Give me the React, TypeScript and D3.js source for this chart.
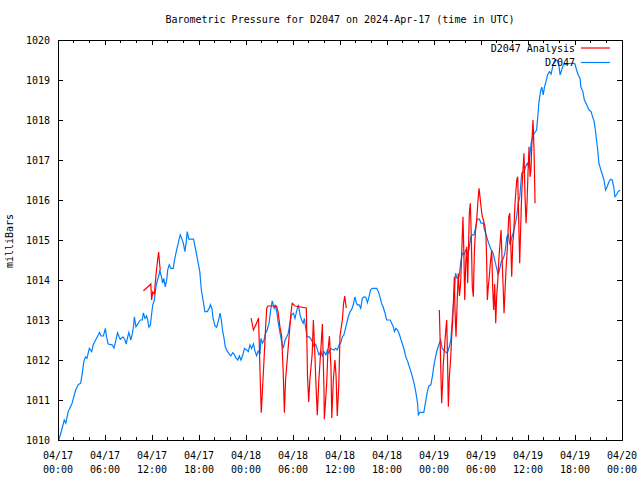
import React from "react";
import * as d3 from "d3";

// ---- data ----
const title = "Barometric Pressure for D2047 on 2024-Apr-17 (time in UTC)";
const yLabel = "milliBars";
const seriesNames = ["D2047 Analysis", "D2047"];

const xDateLabels = ["04/17", "04/17", "04/17", "04/17", "04/18", "04/18", "04/18", "04/18", "04/19", "04/19", "04/19", "04/19", "04/20"];
const xTimeLabels = ["00:00", "06:00", "12:00", "18:00", "00:00", "06:00", "12:00", "18:00", "00:00", "06:00", "12:00", "18:00", "00:00"];
const yTickValues = [1010, 1011, 1012, 1013, 1014, 1015, 1016, 1017, 1018, 1019, 1020];

// hours since 2024-04-17 00:00 UTC
const obsHours = [
  0.1, 0.4, 0.8, 1.0, 1.3, 1.8, 2.25, 2.6, 2.9, 3.1, 3.3, 3.5, 3.7, 4.0, 4.3, 4.5, 4.8, 5.15, 5.3, 5.5, 5.8,
  6.05, 6.2, 6.4, 6.9, 7.15, 7.35, 7.6, 7.8, 7.95, 8.3, 8.55, 8.7, 8.9, 9.05, 9.3, 9.5, 9.65, 9.75, 9.95,
  10.25, 10.5, 10.75, 10.9, 11.1, 11.3, 11.45, 11.6, 11.8, 11.95, 12.1, 12.3, 12.5, 12.7, 12.9, 13.0, 13.25,
  13.35, 13.5, 13.7, 13.9, 14.0, 14.2, 14.4, 14.7, 14.95, 15.15, 15.35, 15.6, 15.8, 16.0, 16.2, 16.35, 16.5,
  16.7, 17.3, 17.5, 17.7, 17.9, 18.1, 18.3, 18.55, 18.75, 19.05, 19.3, 19.45, 19.65, 19.8, 20.05, 20.25,
  20.45, 20.7, 20.85, 21.0, 21.2, 21.35, 21.6, 21.9, 22.05, 22.3, 22.5, 22.7, 22.95, 23.15, 23.35, 23.6,
  23.8, 24.1, 24.3, 24.5, 24.7, 24.95, 25.15, 25.35, 25.55, 25.8, 25.9, 26.1, 26.3, 26.5, 26.7, 26.95,
  27.15, 27.35, 27.6, 27.75, 27.95, 28.1, 28.35, 28.55, 28.75, 29.0, 29.2, 29.4, 29.6, 29.8, 30.05, 30.25,
  30.45, 30.7, 30.9, 31.1, 31.3, 31.45, 31.6, 31.8, 32.05, 32.25, 32.45, 32.7, 32.9, 33.1, 33.3, 33.55,
  33.75, 33.95, 34.2, 34.4, 34.6, 34.8, 35.0, 35.25, 35.45, 35.65, 35.9, 36.1, 36.3, 36.5, 36.75, 37.05,
  37.3, 37.5, 37.7, 37.9, 38.05, 38.2, 38.45, 38.65, 38.85, 39.05, 39.3, 39.5, 39.7, 39.9, 40.1, 40.7,
  40.9, 41.1, 41.3, 41.5, 41.75, 41.95, 42.4, 42.6, 42.8, 42.95, 43.15, 43.35, 43.6, 43.8, 44.0, 44.2,
  44.4, 44.65, 44.85, 45.05, 45.3, 45.5, 45.7, 45.9, 46.0, 46.2, 46.7, 46.9, 47.15, 47.35, 47.6, 47.8,
  48.0, 48.2, 48.4, 48.65, 48.85, 49.05, 49.4, 49.7, 49.95, 50.15, 50.35, 50.55, 50.75, 50.95, 51.2, 51.4,
  51.6, 51.85, 52.05, 52.25, 52.45, 52.7, 52.9, 53.1, 53.3, 53.5, 53.8, 54.0, 54.3, 54.4, 54.65, 54.85,
  55.05, 55.3, 55.55, 55.8, 56.0, 56.2, 56.4, 56.6, 56.85, 57.05, 57.3, 57.5, 57.7, 57.9, 58.1, 58.35,
  58.55, 58.75, 58.95, 59.2, 59.5, 59.7, 59.9, 60.1, 60.25, 60.4, 60.6, 60.8, 61.1, 61.25, 61.4, 61.6,
  61.75, 61.95, 62.1, 62.3, 62.5, 62.75, 62.95, 63.15, 63.4, 63.7, 63.9, 64.1, 64.3, 64.5, 64.95, 65.8,
  66.0, 66.2, 66.4, 66.65, 66.75, 67.0, 67.2, 67.4, 67.6, 67.8, 68.05, 68.25, 68.45, 68.6, 68.75, 68.9,
  69.05, 69.3, 69.5, 69.7, 69.9, 70.1, 70.35, 70.55, 70.75, 70.95, 71.1, 71.3, 71.5, 71.75,
];
const obsPressure = [
  1010.0, 1010.2, 1010.5, 1010.42, 1010.71, 1010.92, 1011.25, 1011.39, 1011.42, 1011.67, 1011.96, 1012.08, 1012.04, 1012.29, 1012.21, 1012.38, 1012.5, 1012.63, 1012.69, 1012.6, 1012.6,
  1012.79, 1012.58, 1012.4, 1012.38, 1012.3, 1012.46, 1012.68, 1012.58, 1012.52, 1012.58, 1012.5, 1012.4, 1012.58, 1012.69, 1012.5, 1012.67, 1012.85, 1013.08, 1012.83,
  1012.92, 1013.0, 1013.0, 1013.18, 1013.04, 1013.1, 1013.0, 1012.82, 1012.88, 1013.15, 1013.38, 1013.5, 1013.83, 1014.0, 1014.13, 1014.25, 1014.04,
  1013.92, 1014.04, 1013.83, 1014.04, 1014.25, 1014.38, 1014.29, 1014.29, 1014.58, 1014.75, 1014.92, 1015.13, 1015.04, 1014.92, 1014.71, 1014.92, 1015.21,
  1015.02, 1015.02, 1014.83, 1014.63, 1014.42, 1014.21, 1013.75, 1013.46, 1013.21, 1013.21, 1013.29, 1013.38, 1013.29, 1013.04, 1012.85, 1012.82,
  1012.96, 1013.17, 1013.0, 1012.75, 1012.54, 1012.33, 1012.22, 1012.14, 1012.1, 1012.18, 1012.14, 1012.06, 1012.0, 1012.1, 1012.0, 1012.13,
  1012.29, 1012.25, 1012.21, 1012.38, 1012.29, 1012.4, 1012.22, 1012.11, 1012.22, 1012.17, 1012.54, 1012.42, 1012.5, 1012.67, 1012.75, 1012.92,
  1013.25, 1013.48, 1013.29, 1013.38, 1013.17, 1012.96, 1012.67, 1012.46, 1012.29, 1012.5, 1012.58, 1012.67, 1012.92, 1013.13, 1013.17, 1013.04,
  1013.21, 1013.38, 1013.13, 1013.0, 1012.92, 1013.04, 1012.83, 1012.58, 1012.58, 1012.54, 1012.46, 1012.33, 1012.39, 1012.27, 1012.13, 1012.21,
  1012.1, 1012.21, 1012.13, 1012.25, 1012.17, 1012.29, 1012.27, 1012.25, 1012.29, 1012.25, 1012.38, 1012.43, 1012.58, 1012.63, 1012.83, 1013.08,
  1013.21, 1013.27, 1013.38, 1013.58, 1013.46, 1013.38, 1013.38, 1013.29, 1013.54, 1013.58, 1013.57, 1013.43, 1013.58, 1013.75, 1013.79, 1013.79,
  1013.71, 1013.58, 1013.42, 1013.33, 1013.17, 1013.0, 1013.0, 1012.92, 1012.83, 1012.71, 1012.79, 1012.75, 1012.63, 1012.5, 1012.38, 1012.25,
  1012.08, 1011.96, 1011.83, 1011.71, 1011.54, 1011.38, 1011.17, 1010.92, 1010.63, 1010.69, 1010.69, 1010.92, 1011.21, 1011.35, 1011.38, 1011.6,
  1011.88, 1012.08, 1012.25, 1012.4, 1012.5, 1012.29, 1012.21, 1012.17, 1012.33, 1012.5, 1013.08, 1013.54, 1014.17, 1014.04, 1014.08, 1014.42,
  1014.67, 1014.63, 1014.75, 1014.67, 1014.75, 1015.08, 1015.13, 1015.13, 1015.29, 1015.52, 1015.52, 1015.42, 1015.42, 1015.29, 1015.13, 1015.0,
  1014.88, 1014.75, 1014.67, 1014.46, 1014.29, 1014.13, 1014.29, 1014.46, 1014.54, 1014.67, 1015.08, 1015.13, 1014.88, 1015.04, 1015.17, 1015.38,
  1015.58, 1015.92, 1016.08, 1016.67, 1016.71, 1016.83, 1016.92, 1016.83, 1017.13, 1017.42, 1017.58, 1017.67, 1017.75, 1018.08, 1018.46, 1018.71,
  1018.82, 1018.63, 1018.83, 1018.96, 1019.13, 1019.21, 1019.15, 1019.33, 1019.5, 1019.5, 1019.42, 1019.13, 1019.25, 1019.38, 1019.4, 1019.42,
  1019.4, 1019.25, 1019.13, 1019.04, 1018.83, 1018.71, 1018.5, 1018.42, 1018.33, 1018.25, 1018.21, 1018.08, 1017.96, 1017.75, 1017.5, 1017.25,
  1016.92, 1016.75, 1016.63, 1016.5, 1016.25, 1016.33, 1016.46, 1016.52, 1016.5, 1016.33, 1016.08, 1016.13, 1016.21, 1016.25,
];

// analysis series; null marks a gap between runs
const anaHours = [
  10.9, 11.3, 11.6, 11.85, 11.95, 12.1, 12.3, 12.45, 12.6, 12.75, 12.85, 12.95, 13.05,
  13.1,
  24.65, 24.95, 25.3, 25.6, 25.85, 25.95, 26.1, 26.3, 26.5, 26.65, 26.8, 27.9, 28.1, 28.35, 28.55, 28.75,
  28.9, 29.05, 29.3, 29.55, 29.75, 29.9, 30.25, 31.7, 31.85, 32.0, 32.15, 32.45, 32.6, 32.8, 32.95, 33.1,
  33.3, 33.55, 33.75, 33.95, 34.0, 34.3, 34.45, 34.65, 34.85, 34.95, 35.15, 35.35, 35.5, 35.65, 35.85, 36.0,
  36.3, 36.45, 36.6, 36.8,
  36.9,
  48.68, 48.78, 48.9, 48.98, 49.08, 49.19, 49.32, 49.5, 49.62, 49.7, 49.83, 49.96, 50.13, 50.26, 50.39, 50.6,
  50.68, 50.81, 50.98, 51.1, 51.25, 51.4, 51.58, 51.7, 51.83, 51.92, 52.05, 52.18, 52.3, 52.51, 52.64, 52.76,
  52.89, 53.02, 53.15, 53.27, 53.45, 53.62, 53.75, 53.87, 54.0, 54.15, 54.3, 54.51, 54.64, 54.73, 54.81, 54.93,
  55.06, 55.19, 55.37, 55.5, 55.62, 55.75, 55.88, 56.0, 56.17, 56.3, 56.43, 56.56, 56.68, 56.81, 56.94, 57.06,
  57.19, 57.35, 57.54, 57.67, 57.8, 57.92, 58.05, 58.18, 58.34, 58.56, 58.69, 58.81, 58.94, 59.07, 59.2, 59.33,
  59.49, 59.62, 59.75, 59.87, 60.0, 60.13, 60.26, 60.38, 60.51, 60.64, 60.77, 60.9,
];
const anaPressure = [
  1013.73, 1013.8, 1013.85, 1013.9, 1013.5, 1013.7, 1013.65, 1014.0, 1014.3, 1014.55, 1014.7, 1014.45, 1014.25,
  null,
  1013.05, 1012.75, 1012.9, 1013.05, 1011.3, 1010.68, 1011.25, 1012.0, 1012.8, 1013.3, 1013.35, 1013.35, 1013.2, 1012.8, 1012.6, 1011.7,
  1010.68, 1011.5, 1012.1, 1012.7, 1013.2, 1013.42, 1013.35, 1013.3, 1011.6, 1010.95, 1011.5, 1012.15, 1013.0, 1012.1, 1011.3, 1010.62,
  1011.5, 1012.25, 1012.9, 1011.3, 1010.52, 1011.4, 1012.2, 1012.6, 1011.8, 1010.55, 1011.5, 1012.0, 1011.6, 1010.6, 1011.4, 1012.6,
  1013.0, 1013.4, 1013.6, 1013.3,
  null,
  1013.25, 1012.5, 1011.5, 1010.92, 1011.33, 1011.92, 1012.25, 1012.75, 1013.0, 1012.3, 1010.83, 1011.58, 1012.04, 1012.6, 1013.0, 1014.08,
  1013.25, 1012.58, 1013.58, 1014.17, 1013.6, 1013.9, 1014.92, 1015.58, 1014.5, 1013.5, 1014.42, 1014.83, 1013.92, 1015.67, 1015.92, 1015.08,
  1013.83, 1013.58, 1014.67, 1015.17, 1015.5, 1016.0, 1016.29, 1016.08, 1015.83, 1015.6, 1015.5, 1015.33, 1015.08, 1014.42, 1013.5, 1013.83,
  1014.08, 1014.42, 1014.75, 1013.75, 1013.25, 1013.9, 1012.92, 1013.58, 1014.08, 1014.58, 1014.92, 1015.25, 1014.58, 1013.92, 1013.17, 1013.7,
  1014.25, 1014.75, 1015.58, 1015.67, 1014.92, 1014.08, 1014.92, 1015.17, 1015.92, 1016.5, 1016.58, 1015.5, 1014.42, 1015.33, 1016.17, 1016.67,
  1017.17, 1016.08, 1015.42, 1015.9, 1016.67, 1017.33, 1016.58, 1016.75, 1017.5, 1018.0, 1017.25, 1015.92,
];

const analysisColor = "#ff0000";
const obsColor = "#0080ff";

const W = 640;
const H = 480;
const FONT = "'DejaVu Sans Mono', 'Liberation Mono', monospace";

export default function App() {
  const x = d3.scaleLinear().domain([0, 72]).range([58, 622]);
  const y = d3.scaleLinear().domain([1010, 1020]).range([440, 40]);

  const obs = obsHours.map((h, i) => [h, obsPressure[i]] as [number, number | null]);
  const ana = anaHours.map((h, i) => [h, anaPressure[i]] as [number, number | null]);

  const line = d3
    .line<[number, number | null]>()
    .defined((d) => d[1] != null)
    .x((d) => x(d[0]))
    .y((d) => y(d[1] as number));

  const majorTicks = xTimeLabels.map((_, i) => i * 6);
  const minorTicks = d3.range(0, 73, 2).filter((h) => h % 6 !== 0);

  const [x0, x1] = x.range();
  const [y0, y1] = y.range();

  return (
    <svg
      width={W}
      height={H}
      style={{ position: "fixed", left: 0, top: 0, background: "#fff" }}
      fontFamily={FONT}
      fontSize={10}
    >
      <rect x={0} y={0} width={W} height={H} fill="#fff" />
      <text x={340} y={23} textAnchor="middle" fill="#000">
        {title}
      </text>
      <text transform="translate(13,241) rotate(-90)" textAnchor="middle" fill="#000">
        {yLabel}
      </text>

      {/* y ticks */}
      {yTickValues.map((v) => (
        <g key={"y" + v}>
          <line x1={x0} x2={x0 + 5} y1={y(v)} y2={y(v)} stroke="#000" shapeRendering="crispEdges" />
          <line x1={x1} x2={x1 - 5} y1={y(v)} y2={y(v)} stroke="#000" shapeRendering="crispEdges" />
          <text x={50} y={y(v) + 3.5} textAnchor="end" fill="#000">
            {v}
          </text>
        </g>
      ))}

      {/* x ticks */}
      {majorTicks.map((h, i) => (
        <g key={"x" + h}>
          <line x1={x(h)} x2={x(h)} y1={y0} y2={y0 - 5} stroke="#000" shapeRendering="crispEdges" />
          <line x1={x(h)} x2={x(h)} y1={y1} y2={y1 + 5} stroke="#000" shapeRendering="crispEdges" />
          <text x={x(h)} y={459} textAnchor="middle" fill="#000">
            {xDateLabels[i]}
          </text>
          <text x={x(h)} y={473} textAnchor="middle" fill="#000">
            {xTimeLabels[i]}
          </text>
        </g>
      ))}
      {minorTicks.map((h) => (
        <g key={"m" + h}>
          <line x1={x(h)} x2={x(h)} y1={y0} y2={y0 - 3} stroke="#000" shapeRendering="crispEdges" />
          <line x1={x(h)} x2={x(h)} y1={y1} y2={y1 + 3} stroke="#000" shapeRendering="crispEdges" />
        </g>
      ))}

      {/* series */}
      <path d={line(obs) || ""} fill="none" stroke={obsColor} strokeWidth={1.2} />
      <path d={line(ana) || ""} fill="none" stroke={analysisColor} strokeWidth={1.2} />

      {/* frame */}
      <rect x={x0} y={y1} width={x1 - x0} height={y0 - y1} fill="none" stroke="#000" shapeRendering="crispEdges" />

      {/* legend */}
      <text x={575} y={51.5} textAnchor="end" fill="#000">
        {seriesNames[0]}
      </text>
      <line x1={581} x2={610} y1={48} y2={48} stroke={analysisColor} strokeWidth={1.2} />
      <text x={575} y={66} textAnchor="end" fill="#000">
        {seriesNames[1]}
      </text>
      <line x1={581} x2={610} y1={62.5} y2={62.5} stroke={obsColor} strokeWidth={1.2} />
    </svg>
  );
}
